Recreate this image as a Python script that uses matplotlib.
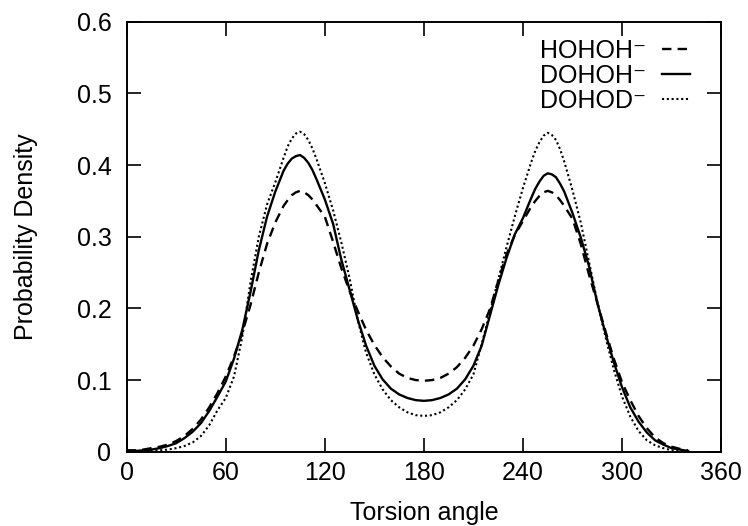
import matplotlib
matplotlib.use("Agg")
import matplotlib.pyplot as plt

plt.rcParams['font.family'] = ['Liberation Sans', 'DejaVu Sans']
plt.rcParams['font.size'] = 18

# torsion angle grid (deg)
angle = [0, 5, 10, 15, 20, 25, 30, 35, 40, 45, 50, 55, 60, 65, 70, 75, 80, 85,
         90, 95, 97.5, 100, 102.5, 105, 107.5, 110, 112.5, 115, 120, 125, 130, 135, 140,
         145, 150, 155, 160, 165, 170, 175, 180, 185, 190, 195, 200, 205, 210, 215, 220,
         225, 230, 235, 240, 245, 247.5, 250, 252.5, 255, 257.5, 260, 262.5, 265, 270, 275,
         280, 285, 290, 295, 300, 305, 310, 315, 320, 325, 330, 335, 340]

hohoh = [0.002, 0.002, 0.003, 0.005, 0.007, 0.010, 0.015, 0.022, 0.032, 0.045, 0.062, 0.082,
         0.105, 0.133, 0.166, 0.205, 0.250, 0.290, 0.320, 0.343, 0.351, 0.358, 0.362, 0.364,
         0.362, 0.358, 0.352, 0.344, 0.328, 0.293, 0.256, 0.224, 0.196, 0.170, 0.149, 0.132,
         0.119, 0.109, 0.103, 0.100, 0.099, 0.100, 0.103, 0.109, 0.118, 0.131, 0.148, 0.171,
         0.199, 0.238, 0.275, 0.302, 0.322, 0.342, 0.350, 0.357, 0.362, 0.364, 0.362, 0.358,
         0.351, 0.343, 0.325, 0.290, 0.247, 0.208, 0.168, 0.130, 0.097, 0.072, 0.050, 0.033,
         0.020, 0.012, 0.007, 0.004, 0.002]

dohoh = [0.001, 0.001, 0.002, 0.003, 0.005, 0.008, 0.012, 0.019, 0.028, 0.040, 0.057, 0.077,
         0.098, 0.130, 0.170, 0.223, 0.281, 0.328, 0.363, 0.392, 0.402, 0.409, 0.4125, 0.414,
         0.410, 0.403, 0.393, 0.380, 0.352, 0.318, 0.268, 0.226, 0.184, 0.148, 0.120, 0.101,
         0.088, 0.080, 0.075, 0.072, 0.071, 0.072, 0.075, 0.080, 0.088, 0.101, 0.120, 0.148,
         0.190, 0.232, 0.270, 0.303, 0.326, 0.354, 0.367, 0.377, 0.385, 0.3885, 0.387, 0.383,
         0.374, 0.363, 0.333, 0.299, 0.259, 0.208, 0.165, 0.125, 0.090, 0.062, 0.042, 0.027,
         0.016, 0.010, 0.005, 0.003, 0.001]

dohod = [0.000, 0.000, 0.001, 0.001, 0.002, 0.003, 0.005, 0.008, 0.013, 0.022, 0.037, 0.058,
         0.075, 0.105, 0.160, 0.237, 0.300, 0.345, 0.376, 0.410, 0.426, 0.437, 0.444, 0.4465,
         0.443, 0.435, 0.423, 0.408, 0.375, 0.337, 0.292, 0.242, 0.183, 0.138, 0.108, 0.087,
         0.072, 0.062, 0.055, 0.051, 0.050, 0.051, 0.055, 0.062, 0.072, 0.087, 0.108, 0.150,
         0.195, 0.240, 0.285, 0.328, 0.368, 0.404, 0.420, 0.432, 0.441, 0.445, 0.442, 0.435,
         0.422, 0.405, 0.365, 0.320, 0.265, 0.210, 0.160, 0.115, 0.077, 0.049, 0.029, 0.016,
         0.009, 0.005, 0.002, 0.001, 0.000]

labels = ['HOHOH\u207b', 'DOHOH\u207b', 'DOHOD\u207b']

fig = plt.figure(figsize=(7.48, 5.26), dpi=100)
ax = fig.add_axes([0.1694, 0.1412, 0.7946, 0.8175])

ax.plot(angle, hohoh, color='black', lw=1.7, dashes=(4, 2.6), label=labels[0])
ax.plot(angle, dohoh, color='black', lw=1.7, label=labels[1])
ax.plot(angle, dohod, color='black', lw=1.5, dashes=(1, 1.3), label=labels[2])

ax.set_xlim(0, 360)
ax.set_ylim(0, 0.6)
ax.set_xticks([0, 60, 120, 180, 240, 300, 360])
ax.set_yticks([0, 0.1, 0.2, 0.3, 0.4, 0.5, 0.6])
ax.set_yticklabels(['0', '0.1', '0.2', '0.3', '0.4', '0.5', '0.6'])
ax.tick_params(direction='in', length=10, width=1.2, top=True, right=True)
ax.tick_params(axis='x', pad=7)
ax.tick_params(axis='y', pad=11)
for s in ax.spines.values():
    s.set_linewidth(1.4)

ax.set_xlabel('Torsion angle', labelpad=11)
ax.set_ylabel('Probability Density', labelpad=28)

leg = ax.legend(loc='upper right', frameon=False, markerfirst=False,
                handlelength=1.15, handletextpad=0.6, labelspacing=0.03,
                borderaxespad=0, borderpad=0.4, bbox_to_anchor=(0.965, 0.983))

fig.savefig('out.png', dpi=100)
